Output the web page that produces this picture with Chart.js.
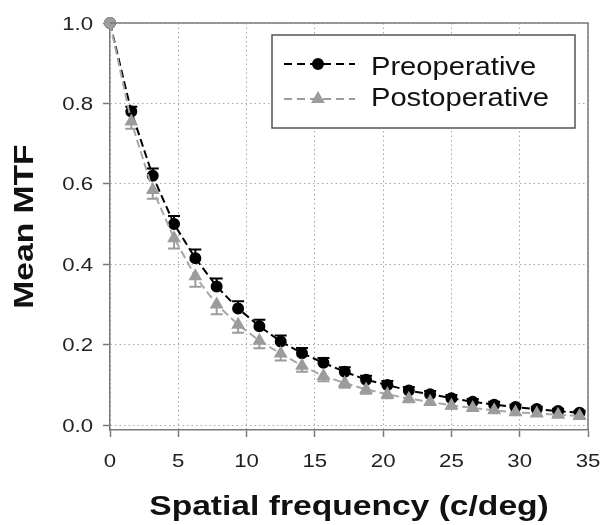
<!DOCTYPE html>
<html>
<head>
<meta charset="utf-8">
<script src="https://cdn.jsdelivr.net/npm/chart.js@4/dist/chart.umd.min.js"></script>
<style>
  html, body { margin: 0; padding: 0; background: #fff; }
  #wrap { position: relative; width: 604px; height: 525px; }
</style>
</head>
<body>
<div id="wrap"><canvas id="mtf-chart"></canvas></div>
<script>
// spatial frequency (c/deg) of each sample
const FREQ = [0, 1.56, 3.13, 4.69, 6.25, 7.81, 9.38, 10.94, 12.5, 14.06, 15.63, 17.19,
  18.75, 20.31, 21.88, 23.44, 25, 26.56, 28.13, 29.69, 31.25, 32.81, 34.38];

const PRE_MTF = [1.0, 0.78, 0.62, 0.50, 0.415, 0.345, 0.29, 0.246, 0.208, 0.179, 0.155, 0.133,
  0.113, 0.100, 0.086, 0.077, 0.067, 0.058, 0.051, 0.045, 0.040, 0.035, 0.031];
const PRE_ERR = [0, 0.012, 0.018, 0.02, 0.022, 0.02, 0.018, 0.016, 0.015, 0.013, 0.012, 0.011,
  0.01, 0.01, 0.009, 0.008, 0.008, 0.007, 0.007, 0.006, 0.006, 0.006, 0.005];

const POST_MTF = [1.0, 0.755, 0.585, 0.465, 0.37, 0.30, 0.25, 0.21, 0.178, 0.148, 0.122, 0.105,
  0.089, 0.077, 0.066, 0.058, 0.049, 0.043, 0.037, 0.032, 0.029, 0.026, 0.023];
const POST_ERR = [0, 0.018, 0.022, 0.026, 0.026, 0.024, 0.02, 0.019, 0.017, 0.015, 0.013, 0.012,
  0.011, 0.01, 0.009, 0.008, 0.008, 0.007, 0.007, 0.006, 0.006, 0.005, 0.005];

const X_TICKS = [0, 5, 10, 15, 20, 25, 30, 35];
const Y_TICKS = [0, 0.2, 0.4, 0.6, 0.8, 1.0];
const Y_TICK_LABELS = ["0.0", "0.2", "0.4", "0.6", "0.8", "1.0"];

const SERIES_NAMES = ["Preoperative", "Postoperative"];
const X_TITLE = "Spatial frequency (c/deg)";
const Y_TITLE = "Mean MTF";

const PRE_COLOR = "#000000";
const POST_COLOR = "#9c9c9c";
const AXIS_COLOR = "#7a7a7a";
const GRID_COLOR = "#a8a8a8";
const FONT = "Arial, 'Liberation Sans', sans-serif";

function toPoints(values) {
  return FREQ.map(function (f, i) { return { x: f, y: values[i] }; });
}

// the original figure uses a wide sans face, so text is stretched sideways
function wideText(ctx, text, x, y, align, stretch, angle) {
  ctx.save();
  ctx.translate(x, y);
  if (angle) ctx.rotate(angle);
  ctx.scale(stretch, 1);
  ctx.textAlign = align;
  ctx.textBaseline = "alphabetic";
  ctx.fillText(text, 0, 0);
  ctx.restore();
}

const errorBars = {
  id: "errorBars",
  beforeDatasetsDraw: function (chart) {
    const ctx = chart.ctx;
    const ys = chart.scales.y;
    const xs = chart.scales.x;
    function draw(values, errs, dir, color) {
      ctx.save();
      ctx.strokeStyle = color;
      ctx.lineWidth = 2;
      values.forEach(function (v, i) {
        if (!errs[i]) return;
        const px = xs.getPixelForValue(FREQ[i]);
        const y0 = ys.getPixelForValue(v);
        const y1 = ys.getPixelForValue(v + dir * errs[i]);
        ctx.beginPath();
        ctx.moveTo(px, y0);
        ctx.lineTo(px, y1);
        ctx.moveTo(px - 6, y1);
        ctx.lineTo(px + 6, y1);
        ctx.stroke();
      });
      ctx.restore();
    }
    draw(POST_MTF, POST_ERR, -1, POST_COLOR);
    draw(PRE_MTF, PRE_ERR, 1, PRE_COLOR);
  },
};

const frameAndText = {
  id: "frameAndText",
  afterDraw: function (chart) {
    const ctx = chart.ctx;
    const area = chart.chartArea;
    const xs = chart.scales.x;
    const ys = chart.scales.y;

    // top and right edges of the box
    ctx.save();
    ctx.strokeStyle = AXIS_COLOR;
    ctx.lineWidth = 1.5;
    ctx.beginPath();
    ctx.moveTo(area.left, area.top);
    ctx.lineTo(area.right, area.top);
    ctx.lineTo(area.right, area.bottom);
    ctx.stroke();
    ctx.restore();

    // tick labels
    ctx.save();
    ctx.fillStyle = "#222";
    ctx.font = "18.5px " + FONT;
    X_TICKS.forEach(function (t) {
      wideText(ctx, String(t), xs.getPixelForValue(t), 467, "center", 1.2);
    });
    Y_TICKS.forEach(function (t, i) {
      wideText(ctx, Y_TICK_LABELS[i], 93, ys.getPixelForValue(t) + 6.5, "right", 1.2);
    });

    // axis titles
    ctx.fillStyle = "#111";
    ctx.font = "bold 28px " + FONT;
    wideText(ctx, X_TITLE, (area.left + area.right) / 2, 515, "center", 1.2);
    wideText(ctx, Y_TITLE, 33, (area.top + area.bottom) / 2, "center", 1.2, -Math.PI / 2);
    ctx.restore();

    // legend box
    const box = { left: 272, top: 35, right: 575, bottom: 128 };
    ctx.save();
    ctx.fillStyle = "#fff";
    ctx.fillRect(box.left, box.top, box.right - box.left, box.bottom - box.top);
    ctx.strokeStyle = "#555";
    ctx.lineWidth = 1.5;
    ctx.strokeRect(box.left, box.top, box.right - box.left, box.bottom - box.top);

    const rows = [
      { color: PRE_COLOR, style: "circle", lineY: 64, textY: 75 },
      { color: POST_COLOR, style: "triangle", lineY: 99, textY: 106 },
    ];
    rows.forEach(function (row, i) {
      ctx.strokeStyle = row.color;
      ctx.lineWidth = 2;
      ctx.setLineDash([8, 5]);
      ctx.beginPath();
      ctx.moveTo(284, row.lineY);
      ctx.lineTo(355, row.lineY);
      ctx.stroke();
      ctx.setLineDash([]);
      ctx.fillStyle = row.color;
      Chart.helpers.drawPoint(ctx, { pointStyle: row.style, radius: row.style === "circle" ? 5 : 6, borderWidth: 1 }, 318, row.lineY);
      ctx.fillStyle = "#111";
      ctx.font = "26px " + FONT;
      wideText(ctx, SERIES_NAMES[i], 371, row.textY, "left", 1.12);
    });
    ctx.restore();
  },
};

const gridStyle = {
  color: GRID_COLOR,
  lineWidth: 1,
  drawTicks: true,
  tickLength: 7,
  tickColor: AXIS_COLOR,
  tickWidth: 1.5,
  tickBorderDash: [],
};

// in Chart.js v4 border.dash sets the dash of the grid lines
const borderStyle = { display: true, color: AXIS_COLOR, width: 1.5, dash: [1.5, 3] };

new Chart(document.getElementById("mtf-chart"), {
  type: "line",
  data: {
    datasets: [
      {
        label: SERIES_NAMES[0],
        data: toPoints(PRE_MTF),
        order: 1,
        borderColor: PRE_COLOR,
        borderWidth: 2,
        borderDash: [8, 4],
        pointStyle: "circle",
        pointRadius: 5,
        pointBackgroundColor: PRE_COLOR,
        pointBorderColor: PRE_COLOR,
        tension: 0,
        clip: false,
      },
      {
        label: SERIES_NAMES[1],
        data: toPoints(POST_MTF),
        order: 0,
        borderColor: "#a8a8a8",
        borderWidth: 2,
        borderDash: [8, 4],
        pointStyle: FREQ.map(function (f, i) { return i === 0 ? "circle" : "triangle"; }),
        pointRadius: FREQ.map(function (f, i) { return i === 0 ? 5 : 6; }),
        pointBackgroundColor: POST_COLOR,
        pointBorderColor: POST_COLOR,
        tension: 0,
        clip: false,
      },
    ],
  },
  options: {
    responsive: true,
    maintainAspectRatio: false,
    animation: false,
    layout: { padding: { top: 23, right: 16, left: 0, bottom: 0 } },
    plugins: { legend: { display: false }, tooltip: { enabled: false } },
    scales: {
      x: {
        type: "linear",
        min: 0,
        max: 35,
        ticks: { display: false, stepSize: 5 },
        grid: gridStyle,
        border: borderStyle,
        afterFit: function (s) { s.height = 95; },
      },
      y: {
        type: "linear",
        min: -0.012,
        max: 1.0,
        ticks: { display: false },
        afterBuildTicks: function (s) {
          s.ticks = Y_TICKS.map(function (v) { return { value: v }; });
        },
        grid: gridStyle,
        border: borderStyle,
        afterFit: function (s) { s.width = 110; },
      },
    },
  },
  plugins: [errorBars, frameAndText],
});
</script>
</body>
</html>
